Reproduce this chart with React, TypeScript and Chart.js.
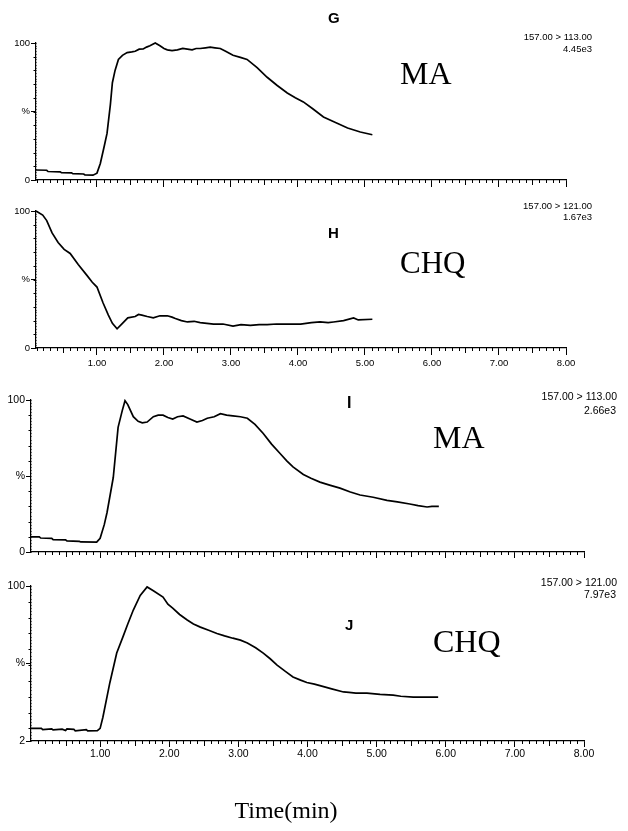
import React, { useEffect, useRef } from "react";
import { Chart, registerables } from "chart.js";
Chart.register(...registerables);

// ---- data ----
const gTime = [0.09, 0.25, 0.27, 0.45, 0.47, 0.62, 0.64, 0.80, 0.82, 0.94, 1.00, 1.05, 1.11, 1.15, 1.20, 1.23, 1.27, 1.32, 1.38, 1.45, 1.52, 1.57, 1.63, 1.69, 1.74, 1.79, 1.87, 1.94, 2.00, 2.05, 2.12, 2.20, 2.28, 2.35, 2.42, 2.48, 2.54, 2.62, 2.69, 2.76, 2.84, 2.92, 3.03, 3.14, 3.24, 3.39, 3.54, 3.69, 3.84, 3.96, 4.08, 4.22, 4.38, 4.56, 4.74, 4.93, 5.11];
const gValues = [7.3, 7.1, 6.2, 6.0, 5.3, 5.2, 4.6, 4.4, 3.8, 3.5, 5, 12, 25, 34, 55, 71, 80, 88, 91, 93, 93.5, 94, 95.5, 95.6, 97, 98, 100, 98, 96, 95, 94.5, 95, 96, 95.5, 95, 96, 96, 96.5, 97, 96.5, 96, 94, 91, 89.5, 88, 82, 75, 69, 63.5, 60, 57, 52, 46, 42, 38, 35, 33];

const hTime = [0.09, 0.19, 0.25, 0.33, 0.42, 0.51, 0.60, 0.72, 0.85, 0.93, 1.00, 1.09, 1.17, 1.23, 1.30, 1.38, 1.46, 1.57, 1.62, 1.67, 1.75, 1.84, 1.94, 2.05, 2.12, 2.17, 2.26, 2.35, 2.45, 2.54, 2.64, 2.74, 2.88, 3.03, 3.15, 3.29, 3.42, 3.54, 3.68, 3.81, 4.04, 4.20, 4.33, 4.45, 4.53, 4.68, 4.83, 4.90, 5.11];
const hValues = [100, 97, 93, 84, 77, 72, 69, 61, 53, 48, 44.5, 33, 24, 18, 14, 18, 22, 23, 24.5, 24, 23, 22, 23.5, 23.5, 22.5, 21.5, 20, 19, 19.5, 18.5, 18, 17.5, 17.5, 16, 17, 16.5, 17, 17, 17.5, 17.5, 17.5, 18.5, 19, 18.5, 19, 20, 22, 20.5, 21];

const iTime = [0, 0.12, 0.14, 0.30, 0.32, 0.50, 0.52, 0.70, 0.72, 0.95, 1.00, 1.06, 1.10, 1.19, 1.26, 1.32, 1.36, 1.40, 1.48, 1.55, 1.61, 1.68, 1.77, 1.84, 1.91, 1.98, 2.05, 2.12, 2.20, 2.30, 2.40, 2.48, 2.55, 2.65, 2.74, 2.83, 2.92, 3.03, 3.13, 3.24, 3.36, 3.48, 3.60, 3.70, 3.79, 3.94, 4.05, 4.18, 4.32, 4.47, 4.62, 4.76, 4.95, 5.15, 5.30, 5.48, 5.60, 5.73, 5.80, 5.90];
const iValues = [10, 10, 9.2, 9, 8.2, 8, 7.3, 7, 6.6, 6.5, 9, 18, 26, 49, 82, 93, 99.5, 97, 89, 86, 85, 85.5, 89, 90, 90, 88.5, 87.5, 89, 89.5, 87.5, 85.5, 86.5, 88, 89, 91, 90, 89.5, 89, 88, 84, 78, 71, 65, 60, 56, 51, 48.5, 46, 44, 42, 39.5, 37.5, 36, 34, 33, 31.6, 30.5, 29.6, 30, 30];

const jTime = [0, 0.15, 0.17, 0.30, 0.32, 0.45, 0.50, 0.52, 0.62, 0.64, 0.80, 0.82, 0.96, 1.00, 1.04, 1.14, 1.24, 1.33, 1.40, 1.48, 1.58, 1.68, 1.77, 1.91, 1.98, 2.05, 2.15, 2.26, 2.35, 2.45, 2.57, 2.69, 2.80, 2.92, 3.03, 3.13, 3.25, 3.36, 3.46, 3.56, 3.68, 3.79, 3.90, 3.99, 4.10, 4.18, 4.35, 4.52, 4.60, 4.70, 4.86, 5.05, 5.24, 5.35, 5.53, 5.70, 5.89];
const jValues = [10, 10, 9.2, 9.6, 9, 9.5, 8.6, 9.6, 9.4, 8.4, 9.2, 8.4, 8.6, 10, 17, 38.7, 57.6, 67.8, 76, 84.8, 94, 99.4, 97, 93, 88.5, 86, 82, 78.5, 76, 74, 72, 70, 68.5, 67, 65.8, 64, 61, 57.6, 54, 50, 46, 42.5, 40.5, 39, 38, 37, 35, 33, 32.8, 32.3, 32.3, 31.5, 31, 30.3, 29.8, 29.8, 29.8];

const xTickValues = [1, 2, 3, 4, 5, 6, 7, 8];
const xTickLabels = ["1.00", "2.00", "3.00", "4.00", "5.00", "6.00", "7.00", "8.00"];
const yTickLabelsStd = ["0", "%", "100"];
const yTickLabelsJ = ["2", "%", "100"];

const SANS = "'Liberation Sans', Arial, sans-serif";
const SERIF = "'Liberation Serif', 'Times New Roman', serif";

type Ann = { text: string; x: number; y: number; font: string; align: CanvasTextAlign };

type Panel = {
  key: string;
  time: number[];
  values: number[];
  top: number;
  height: number;
  axisLeft: number;
  axisRight: number;
  plotTop: number;
  xAxisHeight: number;
  xMin: number;
  xMax: number;
  yMin: number;
  yMax: number;
  yLabels: string[];
  showXLabels: boolean;
  tickFont: number;
  xTickLen: number;
  xPad: number;
  annotations: Ann[];
};

const panels: Panel[] = [
  {
    key: "G", time: gTime, values: gValues, top: 0, height: 195,
    axisLeft: 36, axisRight: 566, plotTop: 43, xAxisHeight: 15,
    xMin: 0.09, xMax: 8, yMin: 0, yMax: 100, yLabels: yTickLabelsStd,
    showXLabels: false, tickFont: 9.5, xTickLen: 7, xPad: 3,
    annotations: [
      { text: "G", x: 328, y: 23, font: `bold 15px ${SANS}`, align: "left" },
      { text: "157.00 > 113.00", x: 592, y: 40, font: `9.5px ${SANS}`, align: "right" },
      { text: "4.45e3", x: 592, y: 52, font: `9.5px ${SANS}`, align: "right" },
      { text: "MA", x: 400, y: 84, font: `32px ${SERIF}`, align: "left" },
    ],
  },
  {
    key: "H", time: hTime, values: hValues, top: 195, height: 185,
    axisLeft: 36, axisRight: 566, plotTop: 16, xAxisHeight: 32,
    xMin: 0.09, xMax: 8, yMin: 0, yMax: 100, yLabels: yTickLabelsStd,
    showXLabels: true, tickFont: 9.5, xTickLen: 7, xPad: 3,
    annotations: [
      { text: "157.00 > 121.00", x: 592, y: 14, font: `9.5px ${SANS}`, align: "right" },
      { text: "1.67e3", x: 592, y: 25, font: `9.5px ${SANS}`, align: "right" },
      { text: "H", x: 328, y: 43, font: `bold 15px ${SANS}`, align: "left" },
      { text: "CHQ", x: 400, y: 78, font: `31px ${SERIF}`, align: "left" },
    ],
  },
  {
    key: "I", time: iTime, values: iValues, top: 380, height: 185,
    axisLeft: 31, axisRight: 584, plotTop: 20, xAxisHeight: 13,
    xMin: 0, xMax: 8, yMin: 0, yMax: 100, yLabels: yTickLabelsStd,
    showXLabels: false, tickFont: 10.5, xTickLen: 6, xPad: 2,
    annotations: [
      { text: "I", x: 347, y: 28, font: `bold 16px ${SANS}`, align: "left" },
      { text: "157.00 > 113.00", x: 617, y: 20, font: `10.5px ${SANS}`, align: "right" },
      { text: "2.66e3", x: 616, y: 34, font: `10.5px ${SANS}`, align: "right" },
      { text: "MA", x: 433, y: 68, font: `32px ${SERIF}`, align: "left" },
    ],
  },
  {
    key: "J", time: jTime, values: jValues, top: 565, height: 266,
    axisLeft: 31, axisRight: 584, plotTop: 21, xAxisHeight: 90,
    xMin: 0, xMax: 8, yMin: 2, yMax: 100, yLabels: yTickLabelsJ,
    showXLabels: true, tickFont: 10.5, xTickLen: 6, xPad: 1,
    annotations: [
      { text: "157.00 > 121.00", x: 617, y: 21, font: `10.5px ${SANS}`, align: "right" },
      { text: "7.97e3", x: 616, y: 33, font: `10.5px ${SANS}`, align: "right" },
      { text: "J", x: 345, y: 65, font: `bold 15px ${SANS}`, align: "left" },
      { text: "CHQ", x: 433, y: 87, font: `32px ${SERIF}`, align: "left" },
      { text: "Time(min)", x: 286, y: 253, font: `24px ${SERIF}`, align: "center" },
    ],
  },
];

const decorPlugin = {
  id: "decor",
  afterDraw(chart: any, _args: any, opts: any) {
    const ctx = chart.ctx as CanvasRenderingContext2D;
    const xs = chart.scales.x;
    const ys = chart.scales.y;
    const area = chart.chartArea;
    ctx.save();
    ctx.strokeStyle = "#000";
    ctx.lineWidth = 1;
    // minor x ticks
    const start = Math.ceil(xs.min * 10 - 1e-6);
    const end = Math.floor(xs.max * 10 + 1e-6);
    for (let i = start; i <= end; i++) {
      if (i % 10 === 0) continue;
      const px = Math.round(xs.getPixelForValue(i / 10)) + 0.5;
      const len = i % 5 === 0 ? 5 : 3;
      ctx.beginPath();
      ctx.moveTo(px, area.bottom);
      ctx.lineTo(px, area.bottom + len);
      ctx.stroke();
    }
    // minor y ticks
    const ax = Math.round(area.left) + 0.5;
    for (let v = Math.ceil(ys.min / 2) * 2; v <= ys.max; v += 2) {
      const py = Math.round(ys.getPixelForValue(v)) + 0.5;
      const len = v % 10 === 0 ? 3 : 1.5;
      ctx.beginPath();
      ctx.moveTo(ax, py);
      ctx.lineTo(ax - len, py);
      ctx.stroke();
    }
    // annotations
    ctx.fillStyle = "#000";
    ctx.textBaseline = "alphabetic";
    for (const a of (opts.annotations || []) as Ann[]) {
      ctx.font = a.font;
      ctx.textAlign = a.align;
      ctx.fillText(a.text, a.x, a.y);
    }
    ctx.restore();
  },
};

function PanelChart({ p }: { p: Panel }) {
  const ref = useRef<HTMLCanvasElement | null>(null);
  useEffect(() => {
    if (!ref.current) return;
    const data = p.time.map((t, i) => ({ x: t, y: p.values[i] }));
    const yMid = (p.yMin + p.yMax) / 2;
    const chart = new Chart(ref.current, {
      type: "line",
      data: {
        datasets: [
          {
            data,
            borderColor: "#000",
            borderWidth: 1.7,
            pointRadius: 0,
            tension: 0,
            fill: false,
            clip: false as any,
          },
        ],
      },
      options: {
        responsive: false,
        animation: false,
        devicePixelRatio: 1,
        layout: { padding: { top: p.plotTop, right: 628 - p.axisRight, left: 0, bottom: 0 } },
        plugins: {
          legend: { display: false },
          tooltip: { enabled: false },
          decor: { annotations: p.annotations },
        } as any,
        scales: {
          x: {
            type: "linear",
            min: p.xMin,
            max: p.xMax,
            afterBuildTicks: (scale: any) => {
              scale.ticks = xTickValues.map((v) => ({ value: v }));
            },
            afterFit: (scale: any) => {
              scale.height = p.xAxisHeight;
            },
            ticks: {
              display: p.showXLabels,
              autoSkip: false,
              maxRotation: 0,
              padding: p.xPad,
              color: "#000",
              font: { family: SANS, size: p.tickFont },
              callback: (_v: any, i: number) => xTickLabels[i],
            },
            grid: {
              display: true,
              drawOnChartArea: false,
              drawTicks: true,
              tickLength: p.xTickLen,
              color: "#000",
              tickColor: "#000",
            },
            border: { display: true, color: "#000", width: 1.2 },
          },
          y: {
            type: "linear",
            min: p.yMin,
            max: p.yMax,
            afterBuildTicks: (scale: any) => {
              scale.ticks = [p.yMin, yMid, p.yMax].map((v) => ({ value: v }));
            },
            afterFit: (scale: any) => {
              scale.width = p.axisLeft;
            },
            ticks: {
              autoSkip: false,
              padding: 1,
              color: "#000",
              font: { family: SANS, size: p.tickFont },
              callback: (_v: any, i: number) => p.yLabels[i],
            },
            grid: {
              display: true,
              drawOnChartArea: false,
              drawTicks: true,
              tickLength: 5,
              color: "#000",
              tickColor: "#000",
            },
            border: { display: true, color: "#000", width: 1.2 },
          },
        },
      },
      plugins: [decorPlugin as any],
    });
    return () => chart.destroy();
  }, [p]);
  return (
    <canvas
      ref={ref}
      width={628}
      height={p.height}
      style={{ position: "absolute", left: 0, top: p.top, width: 628, height: p.height, display: "block" }}
    />
  );
}

export default function App() {
  return (
    <div style={{ position: "absolute", left: 0, top: 0, width: 628, height: 831, background: "#fff", overflow: "hidden" }}>
      {panels.map((p) => (
        <PanelChart key={p.key} p={p} />
      ))}
    </div>
  );
}
